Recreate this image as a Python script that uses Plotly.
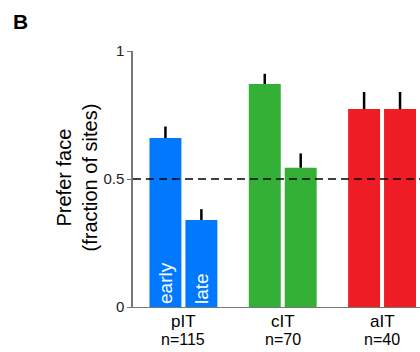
import plotly.graph_objects as go

regions = ["pIT", "cIT", "aIT"]
counts = ["n=115", "n=70", "n=40"]
early_vals = [0.66, 0.871, 0.773]
early_err = [0.045, 0.04, 0.067]
late_vals = [0.34, 0.544, 0.773]
late_err = [0.042, 0.056, 0.067]
bar_colors = ["#0079FF", "#33B035", "#ED1C25"]
early_text = ["early", "", ""]
late_text = ["late", "", ""]
y_ticks = [0, 0.5, 1]
y_ticklabels = ["0", "0.5", "1"]

FONT = "Liberation Sans, Arial, Helvetica, sans-serif"
x = [0, 1, 2]

err_style = dict(type="data", symmetric=False, arrayminus=[0, 0, 0],
                 color="black", thickness=2.5, width=0, visible=True)

fig = go.Figure()
fig.add_trace(go.Bar(
    x=x, y=early_vals, marker=dict(color=bar_colors, line=dict(width=0)),
    error_y=dict(array=early_err, **err_style),
    text=early_text, textposition="inside", insidetextanchor="start",
    textangle=-90, insidetextfont=dict(color="white", size=19, family=FONT),
    showlegend=False, hoverinfo="skip",
))
fig.add_trace(go.Bar(
    x=x, y=late_vals, marker=dict(color=bar_colors, line=dict(width=0)),
    error_y=dict(array=late_err, **err_style),
    text=late_text, textposition="inside", insidetextanchor="start",
    textangle=-90, insidetextfont=dict(color="white", size=19, family=FONT),
    showlegend=False, hoverinfo="skip",
))

fig.add_shape(type="line", xref="paper", yref="y", x0=0, x1=1, y0=0.5, y1=0.5,
              line=dict(color="black", width=1.3, dash="8px,5px"), layer="above")

fig.add_annotation(text="<b>B</b>", xref="paper", yref="paper", x=-0.425, y=1.115,
                   xanchor="left", yanchor="middle", showarrow=False,
                   font=dict(size=21, color="black", family=FONT))

fig.add_annotation(text="Prefer face<br>(fraction of sites)", xref="paper", yref="paper",
                   x=-0.195, y=0.506, xanchor="center", yanchor="middle",
                   textangle=-90, showarrow=False,
                   font=dict(size=20, color="black", family=FONT))

for xi, r, c in zip(x, regions, counts):
    fig.add_annotation(text=r, x=xi, xref="x", yref="paper", y=-0.012,
                       xanchor="center", yanchor="top", showarrow=False,
                       font=dict(size=17, color="black", family=FONT))
    fig.add_annotation(text=c, x=xi, xref="x", yref="paper", y=-0.085,
                       xanchor="center", yanchor="top", showarrow=False,
                       font=dict(size=16, color="black", family=FONT))

fig.update_layout(
    width=420, height=352,
    margin=dict(l=133, r=0, t=51, b=45),
    paper_bgcolor="white", plot_bgcolor="white",
    barmode="group", bargap=0.2764, bargroupgap=0.111,
    font=dict(family=FONT, color="black"),
    hovermode=False,
    xaxis=dict(range=[-0.5075, 2.382], tickvals=x, showticklabels=False,
               showline=True, linecolor="#777", automargin=False,
               linewidth=1, ticks="", showgrid=False, zeroline=False),
    yaxis=dict(range=[0, 1], tickvals=y_ticks, ticktext=y_ticklabels, automargin=False,
               tickfont=dict(size=15, color="#222"), showline=True, linecolor="#777",
               linewidth=1.5, ticks="outside", ticklen=4, tickcolor="#777",
               showgrid=False, zeroline=False),
)

fig.write_html("out.html", config={"displayModeBar": False},
               post_script="document.body.style.margin='0px';")
